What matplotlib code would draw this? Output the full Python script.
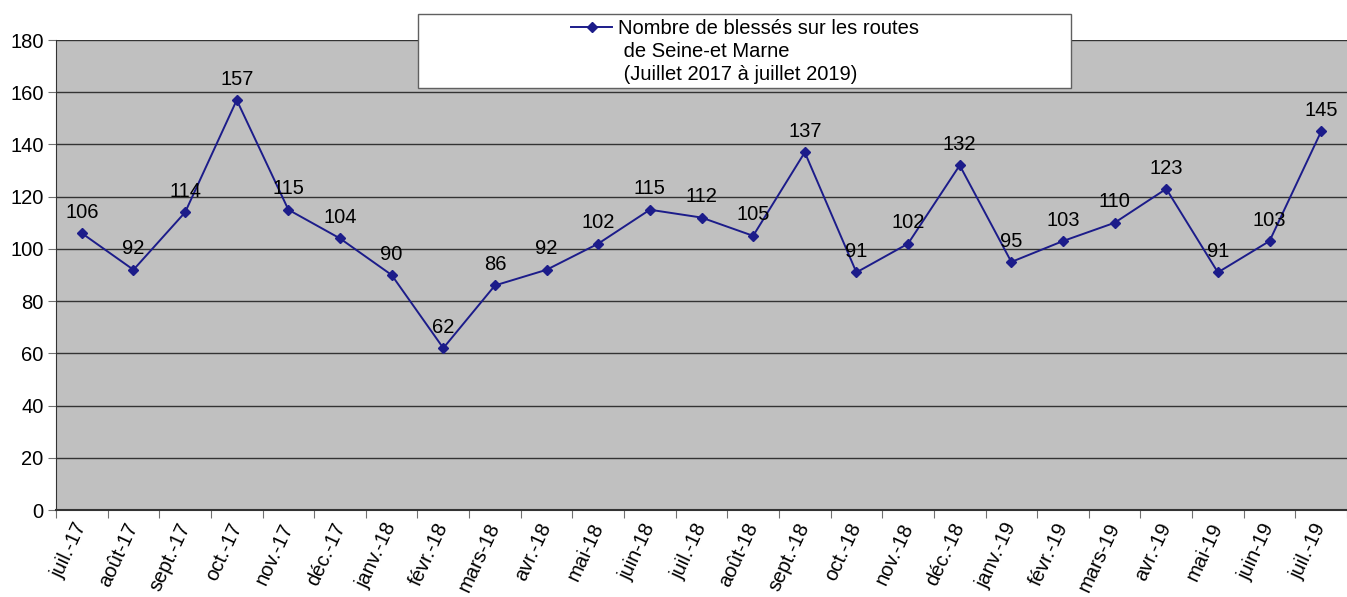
import matplotlib.pyplot as plt
from matplotlib.lines import Line2D
from matplotlib.patches import Rectangle

plt.rcParams['font.family'] = ['Liberation Sans', 'DejaVu Sans']

mois = ['juil.-17', 'août-17', 'sept.-17', 'oct.-17', 'nov.-17', 'déc.-17',
        'janv.-18', 'févr.-18', 'mars-18', 'avr.-18', 'mai-18', 'juin-18',
        'juil.-18', 'août-18', 'sept.-18', 'oct.-18', 'nov.-18', 'déc.-18',
        'janv.-19', 'févr.-19', 'mars-19', 'avr.-19', 'mai-19', 'juin-19',
        'juil.-19']
blesses = [106, 92, 114, 157, 115, 104, 90, 62, 86, 92, 102, 115, 112,
           105, 137, 91, 102, 132, 95, 103, 110, 123, 91, 103, 145]
titre = ['Nombre de blessés sur les routes',
         ' de Seine-et Marne',
         ' (Juillet 2017 à juillet 2019)']

couleur = '#1c1c8a'
fs = 14.5

fig = plt.figure(figsize=(13.47, 5.97), dpi=100)
ax = fig.add_axes([56 / 1347, 1 - 510 / 597, 1 - 56 / 1347, (510 - 40) / 597])
ax.set_facecolor('#c0c0c0')

x = list(range(len(mois)))
ax.plot(x, blesses, color=couleur, lw=1.4, marker='D', ms=5.5, zorder=3)
for xi, v in zip(x, blesses):
    ax.annotate(str(v), (xi, v), xytext=(0, 15), textcoords='offset points',
                ha='center', va='center', fontsize=fs, zorder=4)

ax.set_xlim(-0.5, len(mois) - 0.5)
ax.set_ylim(0, 180)
ax.set_yticks(range(0, 181, 20))
ax.yaxis.grid(True, color='#333333', lw=1)
ax.set_axisbelow(True)

# ticks between categories, labels at centers
ax.set_xticks([i - 0.5 for i in range(len(mois) + 1)])
ax.set_xticklabels([])
ax.set_xticks(x, minor=True)
ax.set_xticklabels(mois, minor=True, rotation=65, ha='right', va='center',
                   rotation_mode='anchor', fontsize=fs)
ax.tick_params(axis='x', which='minor', length=0, pad=10)
ax.tick_params(axis='x', which='major', length=6, color='#707070', direction='out')
ax.tick_params(axis='y', length=6, color='#707070', labelsize=fs, pad=3)

for s in ['top', 'right']:
    ax.spines[s].set_visible(False)
ax.spines['left'].set_color('#333333')
ax.spines['bottom'].set_color('#333333')
ax.spines['bottom'].set_linewidth(1.5)

# legend box
W, H = 1347, 597
fig.patches.append(Rectangle((418 / W, 1 - 88 / H), (1071 - 418) / W, (88 - 14) / H,
                             transform=fig.transFigure, facecolor='white',
                             edgecolor='#606060', lw=1, zorder=10))
fig.lines.append(Line2D([571 / W, 612 / W], [1 - 27 / H, 1 - 27 / H],
                        transform=fig.transFigure, color=couleur, lw=1.4,
                        zorder=11))
fig.lines.append(Line2D([591.5 / W], [1 - 27 / H], transform=fig.transFigure,
                        color=couleur, marker='D', ms=5.5, zorder=11))
for i, t in enumerate(titre):
    fig.text(618 / W, 1 - (28 + i * 23.5) / H, t, fontsize=fs, va='center',
             ha='left', zorder=12)

fig.savefig('out.png', dpi=100)
